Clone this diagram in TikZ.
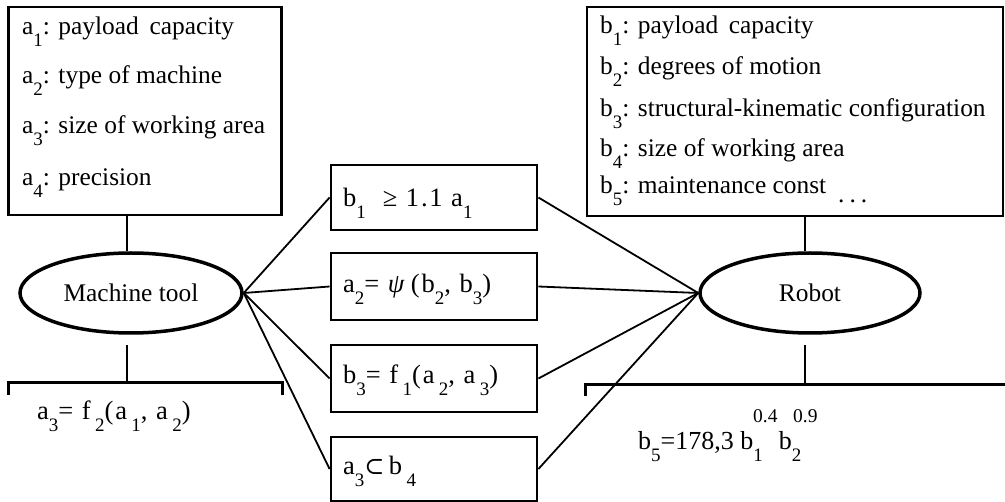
\documentclass[tikz,border=0pt]{standalone}
\usepackage{fontspec}
\setmainfont{Liberation Serif}
\newfontfamily\djv{DejaVu Serif}
\newfontfamily\formfont{Liberation Serif}[LetterSpace=7]
\usetikzlibrary{shapes.geometric}
\newcommand{\sbs}[1]{\raisebox{-0.45em}{\fontsize{19}{19}\selectfont #1}}
\begin{document}
\begin{tikzpicture}[x=1pt,y=-1pt,
  every node/.style={font=\fontsize{25.4}{30}\selectfont},
  frame/.style={draw, line width=2.8pt, inner sep=0pt},
  oval/.style={draw, ellipse, line width=3.5pt, inner sep=0pt},
  link/.style={line width=1.8pt},
  bar/.style={line width=3pt},
  txt/.style={anchor=base west, inner sep=0pt},
  form/.style={anchor=base west, inner sep=0pt, font=\formfont\fontsize{26.5}{30}\selectfont},
  expo/.style={anchor=base west, inner sep=0pt, font=\fontsize{19.5}{19}\selectfont}]
\useasboundingbox (0,0) rectangle (1005,502);

% boxes
\node[frame, minimum width=273pt, minimum height=208pt] (A) at (145,111) {};
\node[frame, minimum width=416pt, minimum height=209pt] (B) at (795,111.5) {};

\node[frame, minimum width=206pt, minimum height=65pt] (R1) at (434,197.5) {};
\node[frame, minimum width=206pt, minimum height=67pt] (R2) at (434,286.5) {};
\node[frame, minimum width=206pt, minimum height=67pt] (R3) at (434,378.5) {};
\node[frame, minimum width=206pt, minimum height=64pt] (R4) at (434,469) {};

% ellipses
\node[oval, minimum width=222pt, minimum height=80pt] (M) at (131,293) {Machine tool};
\node[oval, minimum width=220pt, minimum height=80pt] (Rb) at (810,293) {Robot};

% texts left box
\node[txt] (a1) at (22,35) {a\sbs{1}: payload\, capacity};
\node[txt] (a2) at (22,84) {a\sbs{2}: type of machine};
\node[txt] (a3) at (22,134) {a\sbs{3}: size of working area};
\node[txt] (a4) at (22,186) {a\sbs{4}: precision};

% texts right box
\node[txt] (b1) at (600,34) {b\sbs{1}: payload\, capacity};
\node[txt] (b2) at (600,75) {b\sbs{2}: degrees of motion};
\node[txt] (b3) at (600,117) {b\sbs{3}: structural-kinematic configuration};
\node[txt] (b4) at (600,157) {b\sbs{4}: size of working area};
\node[txt] (b5) at (600,194) {b\sbs{5}: maintenance const};
\node[txt] (dots) at (838,203) {.\hspace{5pt}.\hspace{5pt}.};

% middle formulas
\node[form] (f1) at (343,207) {b\sbs{1}\ \ ≥ 1.1 a\sbs{1}};
\node[form] (f2) at (343,293) {a\sbs{2}= \textit{ψ}\,(b\sbs{2}, b\sbs{3})};
\node[form] (f3) at (343,384) {b\sbs{3}= f\,\sbs{1}(a\,\sbs{2}, a\,\sbs{3})};
\node[form] (f4) at (343,475) {a\sbs{3}{\djv\fontsize{24}{28}\selectfont ⊂}\,b\,\sbs{4}};

% bottom formulas
\node[form] (g1) at (37,420) {a\sbs{3}= f\,\sbs{2}(a\,\sbs{1}, a\,\sbs{2})};
\node[txt, font=\fontsize{26}{30}\selectfont] (g2) at (638,450) {b\sbs{5}=178,3 b\sbs{1}\hspace{16pt}b\sbs{2}};
\node[expo] (e1) at (753,423) {0.4};
\node[expo] (e2) at (793,423) {0.9};

% brackets
\coordinate (L1) at (8,395);
\coordinate (L2) at (8,383);
\coordinate (L3) at (282,383);
\coordinate (L4) at (282,395);
\coordinate (Lm) at (127,383);
\draw[bar] (L1) -- (L2) -- (L3) -- (L4);
\draw[link] (Lm) -- ++(0,-38);

\coordinate (K1) at (585,396);
\coordinate (K2) at (585,385);
\coordinate (K3) at (1005,385);
\coordinate (Km) at (805,385);
\draw[bar] (K1) -- (K2) -- (K3);
\draw[link] (Km) -- ++(0,-40);

% vertical connectors
\draw[link] (M.north -| 127,0) -- (A.south -| 127,0);
\draw[link] (Rb.north -| 805,0) -- (B.south -| 805,0);

% fan connectors
\foreach \n in {R1,R2,R3,R4} {
  \draw[link] (M.east) -- (\n.west);
  \draw[link] (\n.east) -- (Rb.west);
}
\end{tikzpicture}
\end{document}
